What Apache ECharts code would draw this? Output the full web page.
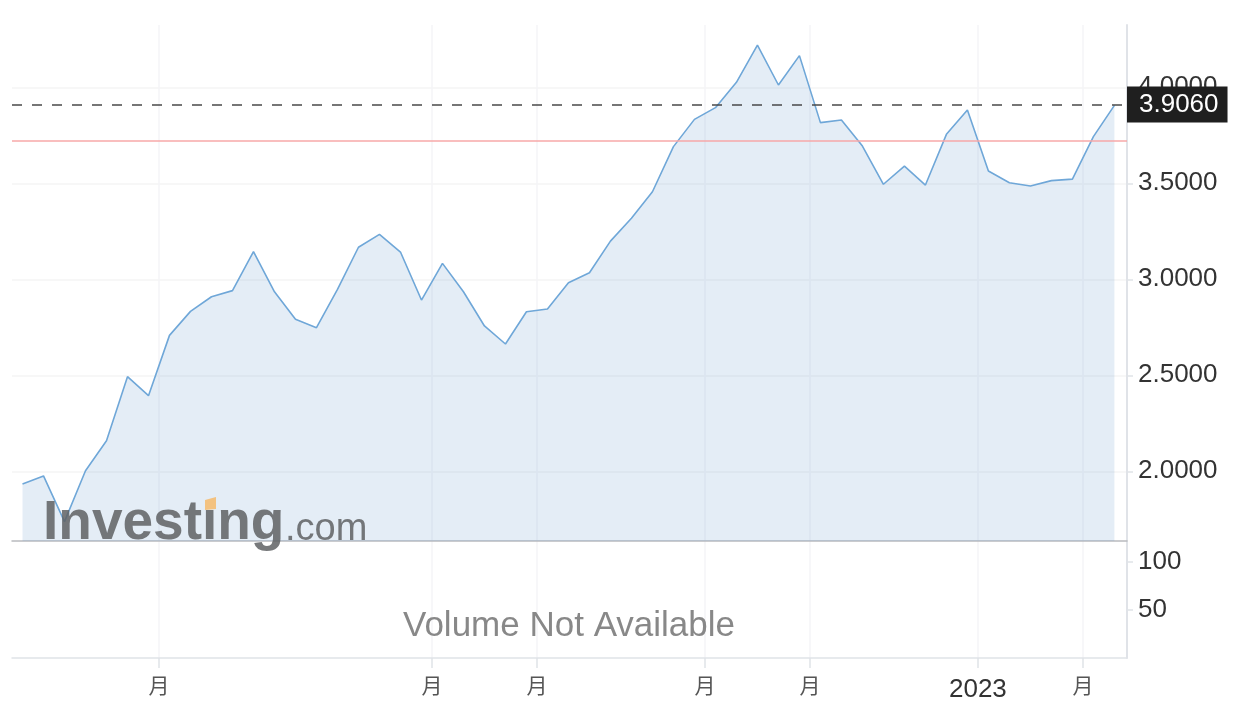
<!DOCTYPE html>
<html>
<head>
<meta charset="utf-8">
<title>Investing chart</title>
<script src="https://cdn.jsdelivr.net/npm/echarts@6/dist/echarts.min.js"></script>
<style>
  html, body { margin: 0; padding: 0; background: #fff; }
  #chart { width: 1248px; height: 726px; }
</style>
</head>
<body>
<div id="chart"></div>
<script>
// weekly closes
const closes = [
  1.934, 1.976, 1.738, 2.003, 2.159, 2.493, 2.394, 2.708, 2.833, 2.909,
  2.941, 3.144, 2.935, 2.792, 2.748, 2.948, 3.167, 3.234, 3.142, 2.892,
  3.083, 2.935, 2.757, 2.663, 2.831, 2.845, 2.982, 3.034, 3.199, 3.318,
  3.456, 3.691, 3.833, 3.894, 4.026, 4.220, 4.012, 4.165, 3.816, 3.830,
  3.694, 3.495, 3.589, 3.491, 3.755, 3.882, 3.564, 3.503, 3.486, 3.514,
  3.522, 3.743, 3.906
]
const lastClose = 3.906
const prevClose = 3.722
const priceTicks = [2.0, 2.5, 3.0, 3.5, 4.0]
const volumeTicks = [50, 100]
const dateTickPos = [6.5, 19.5, 24.5, 32.5, 37.5, 45.5, 50.5]
const dateTickLabels = ['月', '月', '月', '月', '月', '2023', '月']

const FONT = '"Liberation Sans", "Noto Sans CJK JP", sans-serif'
const xMin = -0.5
const xMax = 52.6

const chart = echarts.init(document.getElementById('chart'), null, { renderer: 'canvas' })

function dateLabel(v) {
  const k = dateTickPos.findIndex(p => Math.abs(p - v) < 1e-6)
  if (k < 0) return ''
  const t = dateTickLabels[k]
  return /^\d+$/.test(t) ? '{y|' + t + '}' : '{m|' + t + '}'
}

const option = {
  animation: false,
  grid: [
    { left: 12, right: 121, top: 25, height: 516, outerBoundsMode: 'none' },
    { left: 12, right: 121, top: 541, height: 117, outerBoundsMode: 'none' }
  ],
  xAxis: [
    {
      gridIndex: 0,
      type: 'value',
      min: xMin,
      max: xMax,
      axisLine: { show: true, onZero: false, lineStyle: { color: '#b9bbbf', width: 1.5 } },
      axisTick: { show: false, customValues: dateTickPos },
      axisLabel: { show: false },
      splitLine: { show: true, lineStyle: { color: '#f4f5f7', width: 1.5 } }
    },
    {
      gridIndex: 1,
      type: 'value',
      min: xMin,
      max: xMax,
      axisLine: { show: true, onZero: false, lineStyle: { color: '#e0e3e8', width: 1.5 } },
      axisTick: { show: true, length: 10, customValues: dateTickPos, lineStyle: { color: '#e0e3e8', width: 1.5 } },
      axisLabel: {
        customValues: dateTickPos,
        formatter: dateLabel,
        margin: 19,
        rich: {
          m: { fontSize: 21, color: '#555', fontFamily: FONT },
          y: { fontSize: 26, color: '#333', fontFamily: FONT }
        }
      },
      splitLine: { show: true, lineStyle: { color: '#f4f5f7', width: 1.5 } }
    }
  ],
  yAxis: [
    {
      gridIndex: 0,
      type: 'value',
      position: 'right',
      min: 1.637,
      max: 4.3245,
      axisLine: { show: true, onZero: false, lineStyle: { color: '#e0e3e8', width: 2 } },
      axisTick: { show: true, length: 6, customValues: priceTicks, lineStyle: { color: '#e0e3e8', width: 1.5 } },
      axisLabel: {
        customValues: priceTicks,
        formatter: v => v.toFixed(4),
        margin: 11,
        fontSize: 26,
        backgroundColor: 'rgba(255,255,255,0)',
        padding: [6, 0, 0, 0],
        color: '#333',
        fontFamily: FONT
      },
      splitLine: { show: true, lineStyle: { color: '#f4f4f4', width: 1.5 } }
    },
    {
      gridIndex: 1,
      type: 'value',
      position: 'right',
      min: 0,
      max: 121.1,
      axisLine: { show: true, onZero: false, lineStyle: { color: '#e0e3e8', width: 2 } },
      axisTick: { show: true, length: 6, customValues: volumeTicks, lineStyle: { color: '#e0e3e8', width: 1.5 } },
      axisLabel: {
        customValues: volumeTicks,
        margin: 11,
        fontSize: 26,
        backgroundColor: 'rgba(255,255,255,0)',
        padding: [5, 0, 0, 0],
        color: '#333',
        fontFamily: FONT
      },
      splitLine: { show: false }
    }
  ],
  series: [
    {
      name: 'close',
      type: 'line',
      xAxisIndex: 0,
      yAxisIndex: 0,
      data: closes.map((v, i) => [i, v]),
      symbol: 'none',
      lineStyle: { color: '#6fa7d8', width: 1.6 },
      areaStyle: { color: 'rgba(90,140,200,0.16)', opacity: 1 },
      emphasis: { disabled: true },
      markLine: {
        silent: true,
        symbol: ['none', 'none'],
        animation: false,
        data: [
          {
            yAxis: prevClose,
            lineStyle: { color: '#f7a9a9', width: 1.5, type: 'solid' },
            label: { show: false }
          },
          {
            yAxis: lastClose,
            lineStyle: { color: '#4a4a4a', width: 1.5, type: [10, 10] },
            label: {
              show: true,
              position: 'end',
              distance: 0,
              formatter: () => lastClose.toFixed(4),
              backgroundColor: '#1f1f1f',
              color: '#fff',
              fontSize: 26,
              lineHeight: 28,
              fontFamily: FONT,
              padding: [4, 9, 4, 12]
            }
          }
        ]
      }
    }
  ],
  graphic: [
    {
      type: 'text',
      x: 43,
      y: 524,
      z: 100,
      silent: true,
      style: {
        text: 'Investıng',
        font: 'bold 55px "Liberation Sans"',
        fill: 'rgba(95,97,100,0.85)',
        verticalAlign: 'middle'
      }
    },
    {
      type: 'text',
      x: 285,
      y: 530,
      z: 100,
      silent: true,
      style: {
        text: '.com',
        font: '38px "Liberation Sans"',
        fill: 'rgba(95,97,100,0.85)',
        verticalAlign: 'middle'
      }
    },
    {
      type: 'polygon',
      z: 101,
      silent: true,
      shape: { points: [[205, 500], [216, 497], [216, 509], [205, 510]] },
      style: { fill: 'rgba(245,190,115,0.9)' }
    },
    {
      type: 'text',
      x: 569,
      y: 626,
      z: 100,
      silent: true,
      style: {
        text: 'Volume Not Available',
        font: '35px "Liberation Sans"',
        fill: '#888',
        align: 'center',
        verticalAlign: 'middle'
      }
    }
  ]
}

chart.setOption(option)
</script>
</body>
</html>
